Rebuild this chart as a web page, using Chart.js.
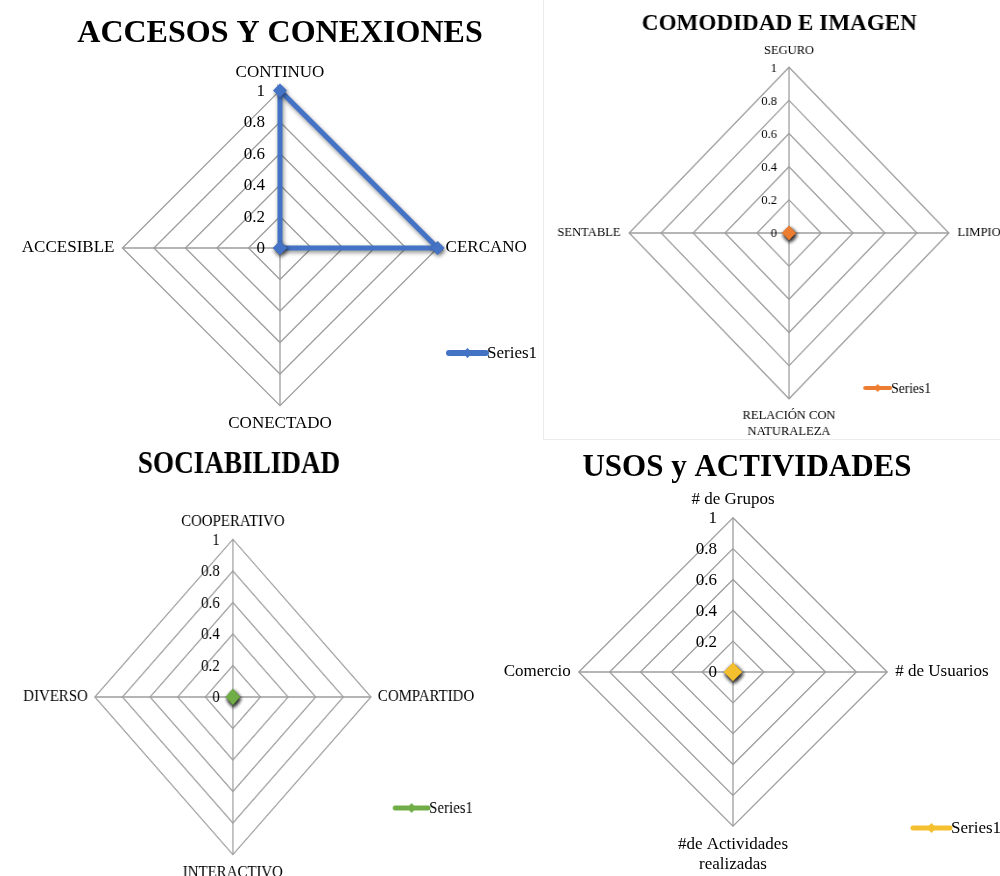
<!DOCTYPE html>
<html>
<head>
<meta charset="utf-8">
<script src="https://cdn.jsdelivr.net/npm/chart.js@4/dist/chart.umd.min.js"></script>
<style>
  html, body { margin: 0; padding: 0; background: #fff; width: 1000px; height: 876px; overflow: hidden; position: relative; }
  canvas { position: absolute; }
  #frame { position: absolute; left: 543px; top: -1px; width: 470px; height: 440px;
           border-left: 1px solid #ececec; border-bottom: 1px solid #ececec; }
</style>
</head>
<body>
<div id="frame"></div>
<canvas id="accesos" width="576" height="434" style="left:-8px;top:0px"></canvas>
<canvas id="comodidad" width="518" height="447"
        style="left:520px;top:0px;transform:scaleX(0.964);transform-origin:269px 233px"></canvas>
<canvas id="sociabilidad" width="582" height="443"
        style="left:-51px;top:440px;transform:scaleX(0.876);transform-origin:283px 257px"></canvas>
<canvas id="usos" width="542" height="446" style="left:476px;top:440px"></canvas>
<script>
const seriesName = "Series1";
const tickValues = [0, 0.2, 0.4, 0.6, 0.8, 1];
const tickLabels = ["0", "0.2", "0.4", "0.6", "0.8", "1"];

// chart 1
const accesosLabels = ["CONTINUO", "CERCANO", "CONECTADO", "ACCESIBLE"];
const accesosValues = [1, 1, 0, 0];
// chart 2
const comodidadLabels = ["SEGURO", "LIMPIO", ["RELACIÓN CON", "NATURALEZA"], "SENTABLE"];
const comodidadValues = [0, 0, 0, 0];
// chart 3
const sociabilidadLabels = ["COOPERATIVO", "COMPARTIDO", "INTERACTIVO", "DIVERSO"];
const sociabilidadValues = [0, 0, 0, 0];
// chart 4
const usosLabels = ["# de Grupos", "# de Usuarios", ["#de Actividades", "realizadas"], "Comercio"];
const usosValues = [0, 0, 0, 0];

const serif = "'Liberation Serif', 'Times New Roman', serif";
const gridColor = "#9d9d9d";

// tick numbers sit to the left of the vertical axis
const leftTicks = {
  id: "leftTicks",
  beforeDatasetsDraw(chart, args, o) {
    const r = chart.scales.r, ctx = chart.ctx;
    ctx.save();
    ctx.fillStyle = "#000";
    ctx.font = o.size + "px " + serif;
    ctx.textAlign = "right";
    ctx.textBaseline = "middle";
    tickValues.forEach((v, i) => {
      const p = r.getPointPositionForValue(0, v);
      ctx.fillText(tickLabels[i], p.x - o.gap, p.y + 1);
    });
    ctx.restore();
  }
};

// soft drop shadow under the series
const markShadow = {
  id: "markShadow",
  beforeDatasetsDraw(chart) {
    const c = chart.ctx;
    c.save();
    c.shadowColor = "rgba(0,0,0,0.45)";
    c.shadowBlur = 4;
    c.shadowOffsetX = 1;
    c.shadowOffsetY = 2;
  },
  afterDatasetsDraw(chart) { chart.ctx.restore(); }
};

// little "line + diamond  Series1" key
const seriesKey = {
  id: "seriesKey",
  afterDraw(chart, args, o) {
    const ds = chart.data.datasets[0], ctx = chart.ctx;
    ctx.save();
    ctx.strokeStyle = ds.borderColor;
    ctx.fillStyle = ds.borderColor;
    ctx.lineWidth = o.lineWidth;
    ctx.lineCap = "round";
    ctx.beginPath();
    ctx.moveTo(o.x, o.y);
    ctx.lineTo(o.x + o.len, o.y);
    ctx.stroke();
    const mx = o.x + o.len / 2;
    ctx.beginPath();
    ctx.moveTo(mx - o.mark, o.y);
    ctx.lineTo(mx, o.y - o.mark);
    ctx.lineTo(mx + o.mark, o.y);
    ctx.lineTo(mx, o.y + o.mark);
    ctx.closePath();
    ctx.fill();
    ctx.fillStyle = "#000";
    ctx.font = o.size + "px " + serif;
    ctx.textBaseline = "middle";
    ctx.fillText(ds.label, o.x + o.len + 1, o.y + 1);
    ctx.restore();
  }
};

function makeRadar(id, labels, values, color, c) {
  return new Chart(document.getElementById(id), {
    type: "radar",
    data: {
      labels: labels,
      datasets: [{
        label: seriesName,
        data: values,
        borderColor: color,
        backgroundColor: color,
        borderWidth: c.lineWidth,
        fill: false,
        pointStyle: "rectRot",
        pointRadius: c.pointRadius,
        pointBackgroundColor: color,
        pointBorderWidth: 0
      }]
    },
    options: {
      responsive: false,
      animation: false,
      plugins: {
        legend: { display: false },
        tooltip: { enabled: false },
        title: {
          display: true,
          text: c.title,
          color: "#000",
          font: { family: serif, size: c.titleSize, weight: "bold" },
          padding: c.titlePad
        },
        leftTicks: c.ticks,
        seriesKey: c.key
      },
      scales: {
        r: {
          min: 0,
          max: 1,
          ticks: { display: false, stepSize: 0.2 },
          grid: { color: gridColor, lineWidth: 1.3 },
          angleLines: { color: gridColor, lineWidth: 1.3 },
          pointLabels: {
            color: "#000",
            padding: c.labelPad,
            font: { family: serif, size: c.labelSize }
          }
        }
      }
    },
    plugins: [leftTicks, markShadow, seriesKey]
  });
}

makeRadar("accesos", accesosLabels, accesosValues, "#4472C4", {
  title: "ACCESOS Y CONEXIONES", titleSize: 32, titlePad: { top: 14.8, bottom: 8.8 },
  labelSize: 17, labelPad: 8, lineWidth: 5, pointRadius: 7,
  ticks: { size: 17, gap: 15 },
  key: { x: 457, y: 353, len: 37, lineWidth: 6, mark: 5, size: 17 }
});

makeRadar("comodidad", comodidadLabels, comodidadValues, "#ED7D31", {
  title: "COMODIDAD E IMAGEN", titleSize: 24, titlePad: { top: 9.1, bottom: -2.9 },
  labelSize: 13, labelPad: 9, lineWidth: 3, pointRadius: 7,
  ticks: { size: 13, gap: 12.5 },
  key: { x: 348, y: 388, len: 26, lineWidth: 4, mark: 4, size: 14 }
});

makeRadar("sociabilidad", sociabilidadLabels, sociabilidadValues, "#70AD47", {
  title: "SOCIABILIDAD", titleSize: 31, titlePad: { top: 6.4, bottom: 27.4 },
  labelSize: 17, labelPad: 8, lineWidth: 3, pointRadius: 8,
  ticks: { size: 17, gap: 15 },
  key: { x: 469, y: 368, len: 38, lineWidth: 5, mark: 5, size: 17 }
});

makeRadar("usos", usosLabels, usosValues, "#F5C030", {
  title: "USOS y ACTIVIDADES", titleSize: 31, titlePad: { top: 9.4, bottom: -6.6 },
  labelSize: 17, labelPad: 8, lineWidth: 3, pointRadius: 9,
  ticks: { size: 17, gap: 16 },
  key: { x: 437, y: 388, len: 37, lineWidth: 5, mark: 5, size: 17 }
});
</script>
</body>
</html>
